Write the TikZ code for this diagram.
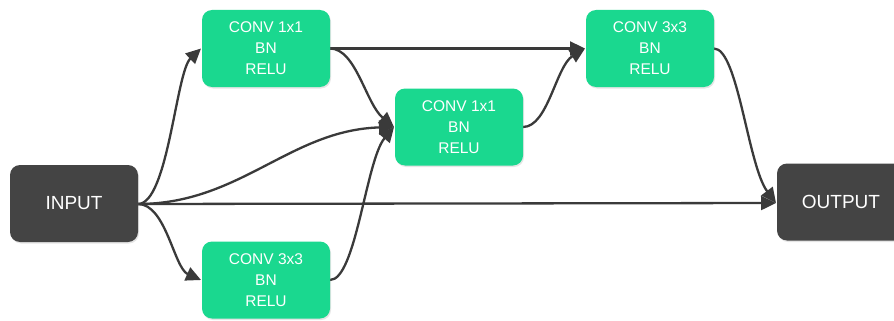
\documentclass[tikz,border=0pt]{standalone}
\usepackage{fontspec}
\setmainfont{Liberation Sans}
\usetikzlibrary{arrows.meta,shadows}
\definecolor{boxgreen}{HTML}{1AD88F}
\definecolor{boxdark}{HTML}{444444}
\definecolor{linedark}{HTML}{3A3A3A}
\tikzset{
  box/.style={rounded corners=10pt, minimum width=128pt, inner sep=0pt,
    text=white, align=center,
    drop shadow={shadow xshift=1pt, shadow yshift=-1.5pt, opacity=0.2}},
  convbox/.style={box, fill=boxgreen, minimum height=77pt,
    font=\fontsize{15.5}{21}\selectfont},
  iobox/.style={box, fill=boxdark, minimum height=77pt,
    font=\fontsize{19}{22}\selectfont},
  link/.style={draw=linedark, line width=2.3pt,
    -{Triangle[length=15pt,width=14pt]}}
}
\begin{document}
\begin{tikzpicture}[x=1pt,y=-1pt]
\clip (0,0) rectangle (894,321);
\fill[white] (0,0) rectangle (894,321);
% edges first (behind boxes)
\coordinate (inE) at (138,204);
\coordinate (c1E) at (330,48.5);
\coordinate (c1W) at (201,48.5);
\coordinate (c2W) at (394,127);
\coordinate (c2E) at (523,127);
\coordinate (c3W) at (585,48.5);
\coordinate (c3E) at (714,48.5);
\coordinate (c4W) at (201,280);
\coordinate (c4E) at (330,280);
\coordinate (outW) at (776,203);

\draw[link] (inE) .. controls (168,204) and (176,72) .. (c1W);
\draw[link] (inE) .. controls (166,204) and (174,268) .. (c4W);
\draw[link] (inE) .. controls (240,204) and (290,130) .. (c2W);
\draw[link] (inE) -- (outW);
\draw[link] (c1E) .. controls (356,48.5) and (366,104) .. (c2W);
\draw[link] (c4E) .. controls (356,280) and (366,160) .. (c2W);
\draw[link] (c1E) -- (c3W);
\draw[link] (c2E) .. controls (548,127) and (556,66) .. (c3W);
\draw[link] (c3E) .. controls (738,48.5) and (748,166) .. (outW);

% boxes
\node[iobox] (input) at (74,203.5) {INPUT};
\node[convbox] (c1) at (266,48.5) {CONV 1x1\\BN\\RELU};
\node[convbox] (c2) at (459,127) {CONV 1x1\\BN\\RELU};
\node[convbox] (c3) at (650,48.5) {CONV 3x3\\BN\\RELU};
\node[convbox] (c4) at (266,280) {CONV 3x3\\BN\\RELU};
\node[iobox] (output) at (841,202) {OUTPUT};
\end{tikzpicture}
\end{document}
